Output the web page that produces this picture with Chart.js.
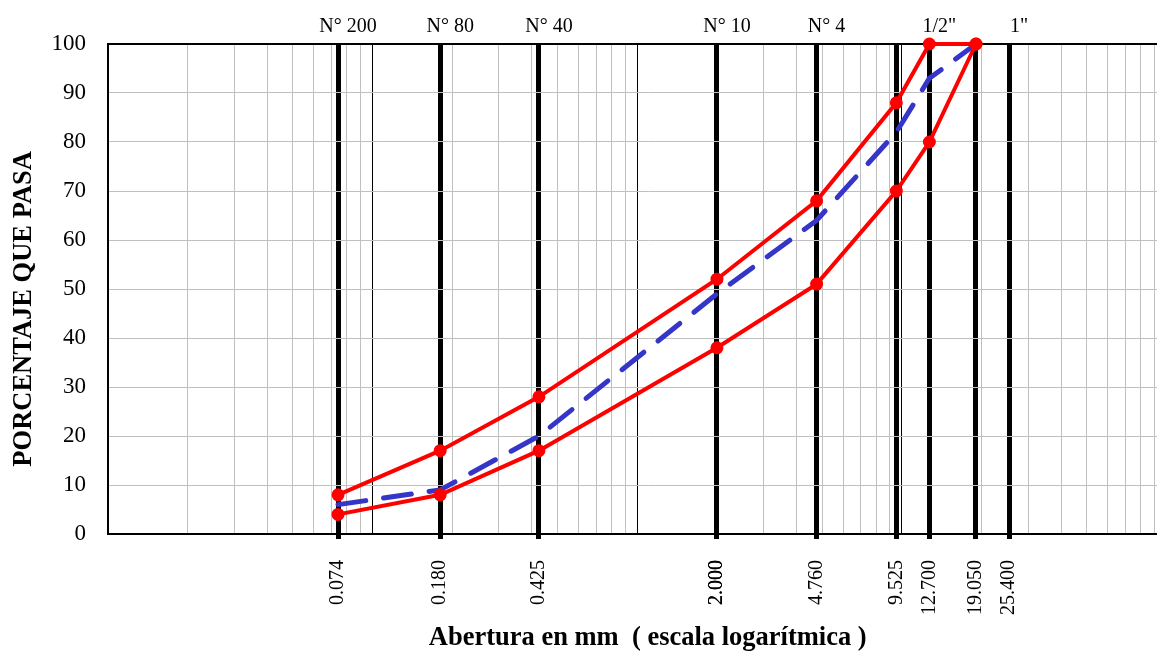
<!DOCTYPE html>
<html>
<head>
<meta charset="utf-8">
<script src="https://cdn.jsdelivr.net/npm/chart.js@4/dist/chart.umd.min.js"></script>
<style>
    html, body { margin: 0; padding: 0; background: #fff; overflow: hidden; }
    /* the plot runs a little past the right edge of the window, as in the original */
    #wrap { width: 1196px; height: 652px; position: relative; }
</style>
</head>
<body>
<div id="wrap"><canvas id="chart"></canvas></div>
<script>
// Sieve openings (mm) and passing percentages
const sieveSizes = [0.074, 0.180, 0.425, 2.000, 4.760, 9.525, 12.700, 19.050];
const upperLimit = [8, 17, 28, 52, 68, 88, 100, 100];
const lowerLimit = [4, 8, 17, 38, 51, 70, 80, 100];
const sampleCurve = [6, 9, 20, 49, 64, 82, 93, 100];

// Axis ticks and labels
const bottomTicks = [0.074, 0.180, 0.425, 2.000, 4.760, 9.525, 12.700, 19.050, 25.400];
const bottomLabels = ['0.074', '0.180', '0.425', '2.000', '4.760', '9.525', '12.700', '19.050', '25.400'];
const topTicks = [0.074, 0.180, 0.425, 2.000, 4.760, 12.700, 25.400];
const topLabels = ['N° 200', 'N° 80', 'N° 40', 'N° 10', 'N° 4', '1/2"', '1"'];
const yTicks = [0, 10, 20, 30, 40, 50, 60, 70, 80, 90, 100];

const X_MIN = 0.01;
const X_MAX = 120;
const FONT = '"Liberation Serif", "Times New Roman", serif';

// log grid: 1..9 x 10^n, then the sieve lines on top
const minorGrid = [];
for (let e = -2; e <= 2; e++) {
    for (let m = 1; m <= 9; m++) {
        const v = parseFloat((m * Math.pow(10, e)).toPrecision(6));
        if (v >= X_MIN && v <= X_MAX) minorGrid.push(v);
    }
}

const near = (a, b) => Math.abs(a - b) / b < 1e-6;
const isSieve = v => bottomTicks.some(s => near(v, s));
const isDecade = v => Math.abs(Math.log10(v) - Math.round(Math.log10(v))) < 1e-9;

const toPoints = vals => sieveSizes.map((x, i) => ({ x: x, y: vals[i] }));

const ctx = document.getElementById('chart').getContext('2d');

new Chart(ctx, {
    type: 'line',
    data: {
        datasets: [
            {
                label: 'Límite superior',
                data: toPoints(upperLimit),
                borderColor: '#ff0000',
                backgroundColor: '#ff0000',
                borderWidth: 4,
                pointRadius: 4.5,
                pointHoverRadius: 4.5,
                tension: 0,
                clip: 8,
                order: 1
            },
            {
                label: 'Límite inferior',
                data: toPoints(lowerLimit),
                borderColor: '#ff0000',
                backgroundColor: '#ff0000',
                borderWidth: 4,
                pointRadius: 4.5,
                pointHoverRadius: 4.5,
                tension: 0,
                clip: 8,
                order: 1
            },
            {
                label: 'Muestra',
                data: toPoints(sampleCurve),
                borderColor: '#3535c8',
                backgroundColor: '#3535c8',
                borderWidth: 5,
                borderDash: [28, 18],
                borderCapStyle: 'round',
                pointRadius: 0,
                tension: 0,
                clip: 8,
                order: 2
            }
        ]
    },
    options: {
        responsive: true,
        maintainAspectRatio: false,
        animation: false,
        layout: {
            padding: 0
        },
        plugins: {
            legend: { display: false },
            tooltip: { enabled: false }
        },
        scales: {
            x: {
                type: 'logarithmic',
                position: 'bottom',
                min: X_MIN,
                max: X_MAX,
                afterBuildTicks: scale => {
                    scale.ticks = minorGrid.concat(bottomTicks).map(v => ({ value: v }));
                },
                afterFit: scale => { scale.height = 118; },
                grid: {
                    drawTicks: true,
                    tickLength: 5,
                    color: c => isSieve(c.tick.value) ? '#000' : (isDecade(c.tick.value) ? '#000' : '#c0c0c0'),
                    lineWidth: c => isSieve(c.tick.value) ? 5 : 1,
                    tickColor: c => isSieve(c.tick.value) ? '#000' : 'rgba(0,0,0,0)',
                    tickWidth: c => isSieve(c.tick.value) ? 5 : 1
                },
                border: { display: true, color: '#000', width: 2 },
                ticks: {
                    autoSkip: false,
                    minRotation: 90,
                    maxRotation: 90,
                    padding: 21,
                    color: '#000',
                    font: { family: FONT, size: 20 },
                    callback: function (value) {
                        const i = bottomTicks.findIndex(s => near(value, s));
                        return i >= 0 ? bottomLabels[i] : '';
                    }
                },
                title: {
                    display: true,
                    text: 'Abertura en mm  ( escala logarítmica )',
                    color: '#000',
                    font: { family: FONT, size: 26.5, weight: 'bold' },
                    padding: { top: 0, bottom: -2 }
                }
            },
            x2: {
                type: 'logarithmic',
                position: 'top',
                min: X_MIN,
                max: X_MAX,
                afterBuildTicks: scale => {
                    scale.ticks = topTicks.map(v => ({ value: v }));
                },
                afterFit: scale => { scale.height = 44; },
                grid: { display: false },
                border: { display: true, color: '#000', width: 2 },
                ticks: {
                    autoSkip: false,
                    maxRotation: 0,
                    padding: -3,
                    labelOffset: 10,
                    color: '#000',
                    font: { family: FONT, size: 20 },
                    callback: function (value) {
                        const i = topTicks.findIndex(s => near(value, s));
                        return i >= 0 ? topLabels[i] : '';
                    }
                }
            },
            y: {
                type: 'linear',
                min: 0,
                max: 100,
                afterBuildTicks: scale => {
                    scale.ticks = yTicks.map(v => ({ value: v }));
                },
                afterFit: scale => { scale.width = 108; },
                grid: {
                    color: '#c0c0c0',
                    lineWidth: 1,
                    drawTicks: false
                },
                border: { display: true, color: '#000', width: 2 },
                ticks: {
                    padding: 22,
                    color: '#000',
                    font: { family: FONT, size: 23 }
                },
                title: {
                    display: true,
                    // trailing spaces push the title down a bit, as in the original
                    text: 'PORCENTAJE QUE PASA      ',
                    color: '#000',
                    font: { family: FONT, size: 26.5, weight: 'bold' },
                    padding: { top: 8, bottom: 0 }
                }
            }
        }
    }
});
</script>
</body>
</html>
